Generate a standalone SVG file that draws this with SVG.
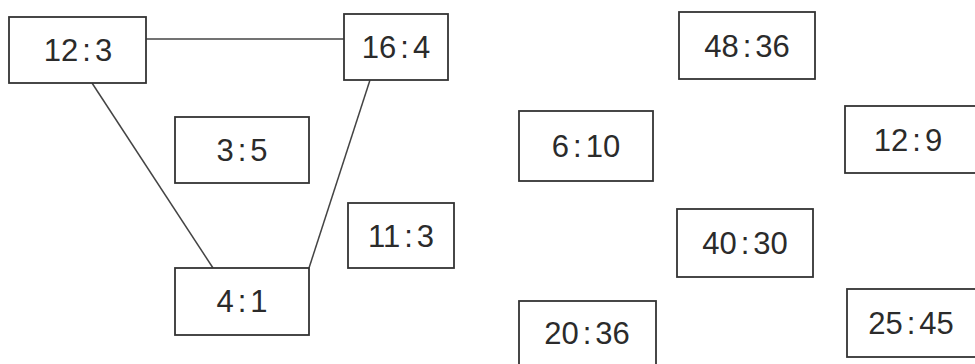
<svg xmlns="http://www.w3.org/2000/svg" width="975" height="364" viewBox="0 0 975 364">
<style>
.box{fill:#fff;stroke:#333;stroke-width:1.8}
.lbl{font-family:"Liberation Sans",Arial,sans-serif;font-size:31px;fill:#2b2b2b;text-anchor:middle}
.edge{stroke:#444;stroke-width:1.5;fill:none}
</style>
<rect width="975" height="364" fill="#fff"/>
<g id="connectors">
<line class="edge" x1="146" y1="39" x2="344" y2="39"/>
<line class="edge" x1="92" y1="83" x2="213" y2="268"/>
<line class="edge" x1="370" y1="80" x2="309" y2="268"/>
</g>
<g id="n12_3"><rect class="box" x="9" y="17" width="137" height="66"/><text class="lbl" x="78" y="61">12<tspan dx="4">:</tspan><tspan dx="4">3</tspan></text></g>
<g id="n16_4"><rect class="box" x="344" y="14" width="104" height="66"/><text class="lbl" x="396" y="58">16<tspan dx="4">:</tspan><tspan dx="4">4</tspan></text></g>
<g id="n3_5"><rect class="box" x="175" y="117" width="134" height="66"/><text class="lbl" x="242" y="161">3<tspan dx="4">:</tspan><tspan dx="4">5</tspan></text></g>
<g id="n4_1"><rect class="box" x="175" y="268" width="134" height="67"/><text class="lbl" x="242" y="312">4<tspan dx="4">:</tspan><tspan dx="4">1</tspan></text></g>
<g id="n11_3"><rect class="box" x="348" y="203" width="106" height="65"/><text class="lbl" x="401" y="247">11<tspan dx="4">:</tspan><tspan dx="4">3</tspan></text></g>
<g id="n48_36"><rect class="box" x="679" y="12" width="136" height="67"/><text class="lbl" x="747" y="57">48<tspan dx="4">:</tspan><tspan dx="4">36</tspan></text></g>
<g id="n6_10"><rect class="box" x="519" y="111" width="134" height="70"/><text class="lbl" x="586" y="157">6<tspan dx="4">:</tspan><tspan dx="4">10</tspan></text></g>
<g id="n12_9"><rect class="box" x="845" y="106" width="140" height="67"/><text class="lbl" x="908" y="151">12<tspan dx="4">:</tspan><tspan dx="4">9</tspan></text></g>
<g id="n40_30"><rect class="box" x="677" y="209" width="136" height="68"/><text class="lbl" x="745" y="254">40<tspan dx="4">:</tspan><tspan dx="4">30</tspan></text></g>
<g id="n20_36"><rect class="box" x="519" y="301" width="137" height="70"/><text class="lbl" x="587" y="344">20<tspan dx="4">:</tspan><tspan dx="4">36</tspan></text></g>
<g id="n25_45"><rect class="box" x="847" y="289" width="140" height="68"/><text class="lbl" x="911" y="334">25<tspan dx="4">:</tspan><tspan dx="4">45</tspan></text></g>
</svg>
